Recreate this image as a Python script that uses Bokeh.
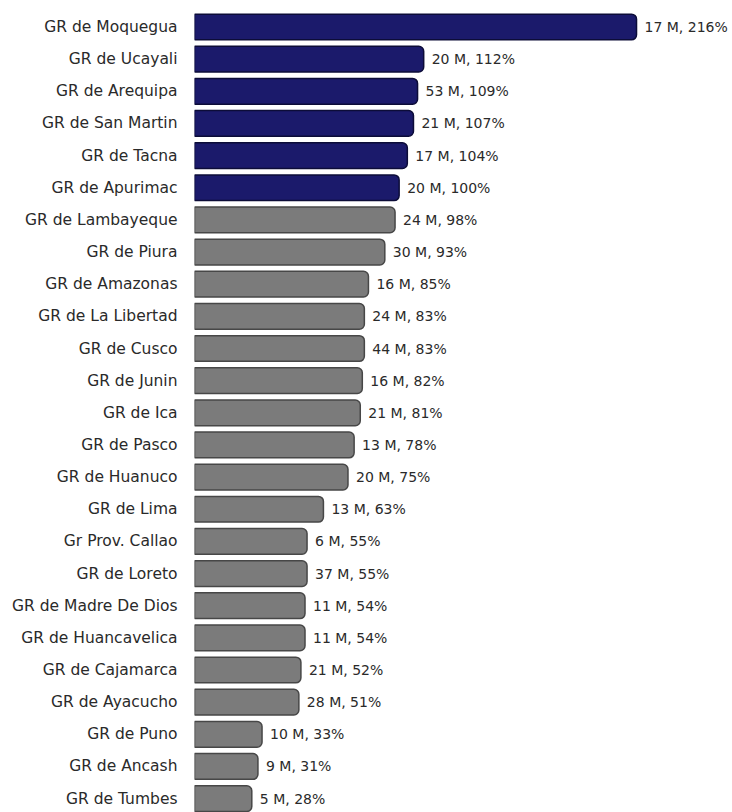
from bokeh.plotting import figure
from bokeh.models import Range1d, FixedTicker, ColumnDataSource
from bokeh.embed import file_html
from bokeh.resources import INLINE
from bokeh.core.properties import value

regions = [
    "GR de Moquegua", "GR de Ucayali", "GR de Arequipa", "GR de San Martin",
    "GR de Tacna", "GR de Apurimac", "GR de Lambayeque", "GR de Piura",
    "GR de Amazonas", "GR de La Libertad", "GR de Cusco", "GR de Junin",
    "GR de Ica", "GR de Pasco", "GR de Huanuco", "GR de Lima",
    "Gr Prov. Callao", "GR de Loreto", "GR de Madre De Dios", "GR de Huancavelica",
    "GR de Cajamarca", "GR de Ayacucho", "GR de Puno", "GR de Ancash", "GR de Tumbes",
]
millions = [17, 20, 53, 21, 17, 20, 24, 30, 16, 24, 44, 16, 21, 13, 20, 13,
            6, 37, 11, 11, 21, 28, 10, 9, 5]
percent = [216, 112, 109, 107, 104, 100, 98, 93, 85, 83, 83, 82, 81, 78, 75, 63,
           55, 55, 54, 54, 52, 51, 33, 31, 28]

NAVY, NAVY_EDGE = "#1b1a6b", "#0c0c38"
GREY, GREY_EDGE = "#7b7b7b", "#474747"

idx = list(range(len(regions)))
fills = [NAVY if v >= 100 else GREY for v in percent]
edges = [NAVY_EDGE if v >= 100 else GREY_EDGE for v in percent]
labels = [f"{m} M, {v}%" for m, v in zip(millions, percent)]

src = ColumnDataSource(dict(y=idx, pct=percent, fill=fills, edge=edges, label=labels))

p = figure(width=732, height=812, output_backend="svg", toolbar_location=None,
           x_range=Range1d(0, 262.9), y_range=Range1d(24.432, -0.824),
           min_border_left=194, min_border_right=0, min_border_top=0, min_border_bottom=0)

p.hbar(y="y", left=0, right="pct", height=0.8, source=src,
       fill_color="fill", line_color="edge", line_width=1.5,
       border_radius=(0, 5, 5, 0))

p.text(x="pct", y="y", text="label", source=src, x_offset=8,
       text_baseline="middle", text_align="left",
       text_font=value("DejaVu Sans"), text_font_size="14px", text_color="#2a2a2a")

p.xaxis.visible = False
p.xgrid.visible = False
p.ygrid.visible = False
p.outline_line_color = None

ax = p.yaxis[0]
ax.ticker = FixedTicker(ticks=idx)
ax.major_label_overrides = {i: r for i, r in zip(idx, regions)}
ax.axis_line_color = None
ax.major_tick_line_color = None
ax.minor_tick_line_color = None
ax.major_tick_out = 0
ax.major_tick_in = 0
ax.major_label_standoff = 17
ax.major_label_text_font = "DejaVu Sans"
ax.major_label_text_font_size = "15.5px"
ax.major_label_text_color = "#2a2a2a"

open("out.html", "w").write(file_html(p, INLINE))
